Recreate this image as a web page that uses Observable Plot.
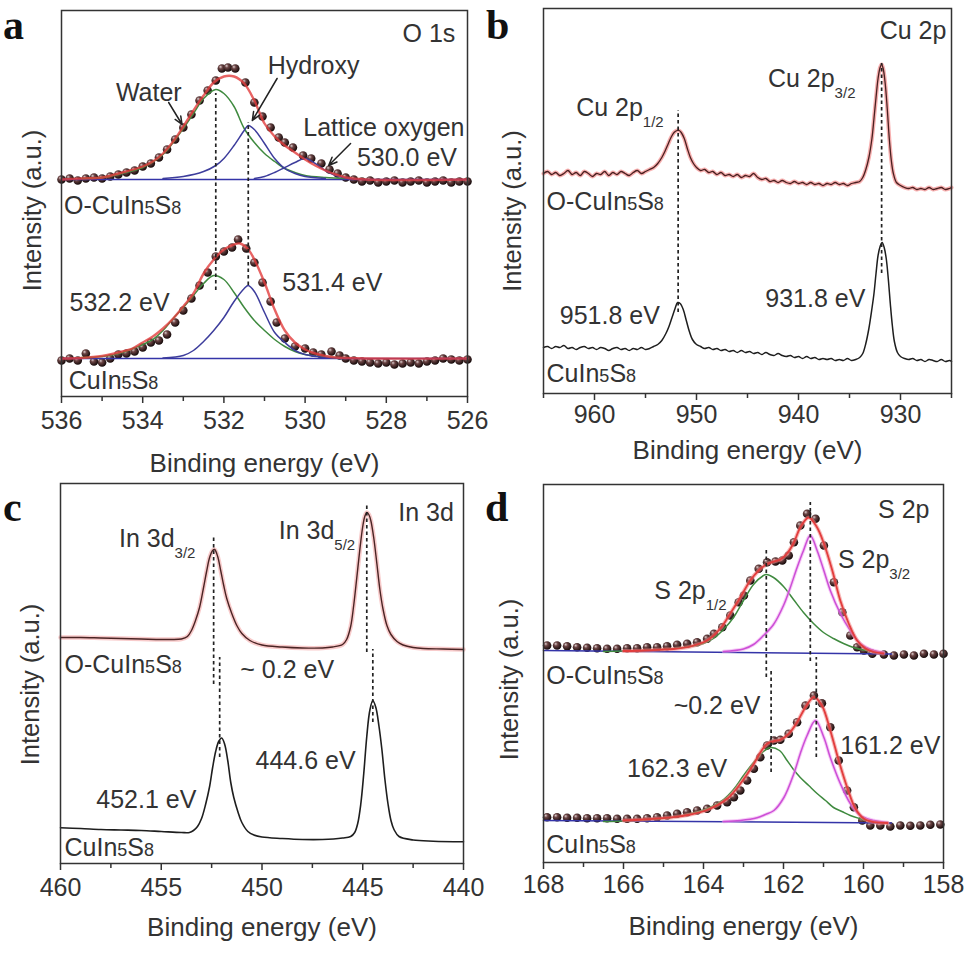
<!DOCTYPE html>
<html><head><meta charset="utf-8">
<script src="https://cdn.jsdelivr.net/npm/d3@7"></script>
<script src="https://cdn.jsdelivr.net/npm/@observablehq/plot@0.6"></script>
<style>
html,body{margin:0;padding:0;background:#fff;}
#fig{position:relative;width:968px;height:968px;overflow:hidden;background:#fff;}
#fig > svg{position:absolute;}
</style></head><body>
<svg width="0" height="0" style="position:absolute">
<defs><radialGradient id="ball" cx="0.4" cy="0.38" r="0.62" fx="0.33" fy="0.3">
<stop offset="0" stop-color="#ddd0d0"/><stop offset="0.35" stop-color="#6b4444"/><stop offset="1" stop-color="#140909"/></radialGradient></defs></svg>
<div id="fig"></div>
<script>
// ---------------- Panel a : O 1s ----------------
const aTopDots = [[536.0,217],[535.8,218],[535.6,216],[535.4,218],[535.2,219],[535.0,218],[534.8,220],[534.6,222],[534.4,224],[534.2,226],[534.0,230],[533.8,233],[533.6,239],[533.4,247],[533.2,257],[533.0,269],[532.8,282],[532.6,296],[532.4,306],[532.2,316],[532.05,328],[531.9,329],[531.72,328],[531.47,314],[531.25,294],[531.05,280],[530.85,269],[530.65,259],[530.5,254],[530.3,249],[530.05,241],[529.85,238],[529.6,233],[529.4,227],[529.2,223],[529.0,219],[528.8,217],[528.6,215],[528.4,216],[528.2,214],[528.0,215],[527.8,216],[527.6,214],[527.4,215],[527.2,216],[527.0,214],[526.8,215],[526.6,216],[526.4,214],[526.2,215],[526.0,215]];
const aTopBase = [[536,217],[526,217]];
const aTopWater = [[535.5,218],[535.0,219],[534.5,223],[534.0,229],[533.5,242],[533.25,254],[533.0,268],[532.75,283],[532.5,298],[532.2,307],[532.0,303],[531.75,290],[531.5,268],[531.25,254],[531.0,243],[530.75,235],[530.5,228],[530.25,224],[530.0,221],[529.5,219],[529.0,218]];
const aTopHydroxy = [[533.5,218],[533.0,220],[532.5,225],[532.2,231],[532.0,238],[531.75,251],[531.5,266],[531.4,271],[531.25,267],[531.0,253],[530.75,238],[530.5,228],[530.25,223],[530.0,220],[529.5,218]];
const aTopLattice = [[531.25,218],[531.0,220],[530.75,224],[530.5,229],[530.25,234],[530.0,238],[529.75,233],[529.5,226],[529.25,221],[529.0,218.5],[528.75,217.5]];
const aTopFit = [[536.0,217],[535.5,218],[535.0,219],[534.5,224],[534.0,230],[533.75,235],[533.5,243],[533.25,255],[533.0,270],[532.75,286],[532.5,301],[532.25,314],[532.0,320],[531.75,320],[531.5,313],[531.25,296],[531.0,273],[530.75,260],[530.5,251],[530.25,244],[530.0,237],[529.75,231],[529.5,226],[529.25,222],[529.0,219],[528.5,217],[526.0,217]];
const aBotDots = [[536.0,36],[535.8,38],[535.6,36],[535.4,43],[535.2,35],[535.0,34],[534.8,38],[534.6,42],[534.4,43],[534.2,45],[534.0,49],[533.8,54],[533.6,56],[533.4,62],[533.2,74],[533.0,86],[532.8,98],[532.6,111],[532.4,124],[532.2,140],[532.0,145],[531.8,149],[531.65,157],[531.45,148],[531.25,134],[531.05,114],[530.85,95],[530.7,74],[530.5,58],[530.25,50],[530.0,48],[529.8,44],[529.6,42],[529.35,45],[529.15,41],[529.0,38],[528.8,36],[528.6,35],[528.4,34],[528.2,33],[528.0,34],[527.8,32],[527.6,33],[527.4,34],[527.2,33],[527.0,35],[526.8,36],[526.6,38],[526.4,37],[526.2,36],[526.0,37]];
const aBotBase = [[536,38],[526,38]];
const aBotWater = [[535.5,39],[535.0,40],[534.5,44],[534.0,52],[533.75,57],[533.5,66],[533.25,78],[533.0,89],[532.75,101],[532.5,113],[532.25,121],[532.0,117],[531.75,104],[531.5,89],[531.25,76],[531.0,66],[530.75,57],[530.5,50],[530.25,45],[530.0,42],[529.5,39.5],[529.0,38.5]];
const aBotHydroxy = [[533.5,38.5],[533.0,41],[532.75,46],[532.5,55],[532.25,66],[532.0,79],[531.75,95],[531.5,108],[531.4,111],[531.25,105],[531.0,84],[530.75,64],[530.5,54],[530.25,46],[530.0,42],[529.5,39],[529.0,38.3]];
const aBotFit = [[536.0,38],[535.5,38.5],[535.0,40.5],[534.5,45],[534.25,48],[534.0,54],[533.75,60],[533.5,68],[533.25,78],[533.0,90],[532.75,103],[532.5,123],[532.25,137],[532.0,147],[531.75,152],[531.6,153],[531.4,147],[531.25,137],[531.0,114],[530.75,87],[530.5,66],[530.25,54],[530.0,47],[529.75,43],[529.5,40.5],[529.25,39],[529.0,38.5],[528.5,38],[526.0,38]];
const aDash = [{x:532.2,y1:106,y2:303},{x:531.4,y1:111,y2:274}];
const aArrows = [{x1:533.36,y1:294,x2:533.03,y2:272},{x1:530.69,y1:318,x2:531.3,y2:276},{x1:528.88,y1:253,x2:529.42,y2:231}];
const aLabels = [
  {x:526.3,y:363,t:"O 1s",a:"end"},
  {x:533.85,y:304,t:"Water",a:"middle"},
  {x:529.79,y:331,t:"Hydroxy",a:"middle"},
  {x:528.06,y:269,t:"Lattice oxygen",a:"middle"},
  {x:527.49,y:239,t:"530.0 eV",a:"middle"},
  {x:535.94,y:191,t:"O-CuIn5S8",a:"start"},
  {x:534.57,y:94,t:"532.2 eV",a:"middle"},
  {x:529.33,y:114,t:"531.4 eV",a:"middle"},
  {x:535.82,y:16,t:"CuIn5S8",a:"start"}
];
const aMajor = [536,534,532,530,528,526], aMinor = [535,533,531,529,527];

// ---------------- Panel b : Cu 2p ----------------
const bTop = [[965.0,220],[964.6,222],[964.2,219],[963.8,221],[963.4,218],[963.0,220],[962.6,223],[962.2,219],[961.8,221],[961.4,218],[961.0,222],[960.6,220],[960.2,217],[959.8,220],[959.4,219],[959.0,222],[958.6,218],[958.2,221],[957.8,219],[957.4,222],[957.0,220],[956.6,218],[956.2,221],[955.8,223],[955.4,220],[955.0,222],[954.6,224],[954.2,226],[953.8,230],[953.4,236],[953.1,242],[952.8,249],[952.5,256],[952.2,261],[951.9,263],[951.7,263],[951.5,261],[951.2,255],[950.9,245],[950.6,236],[950.3,230],[950.0,226],[949.6,223],[949.2,224],[948.8,221],[948.4,222],[948.0,219],[947.6,221],[947.2,218],[946.8,219],[946.4,217],[946.0,219],[945.6,216],[945.2,218],[944.8,217],[944.4,220],[944.0,216],[943.6,214],[943.2,215],[942.8,212],[942.4,213],[942.0,211],[941.6,213],[941.2,211],[940.8,210],[940.4,212],[940.0,210],[939.6,211],[939.2,209],[938.8,211],[938.4,209],[938.0,210],[937.6,208],[937.2,210],[936.8,209],[936.4,211],[936.0,209],[935.6,210],[935.2,208],[934.8,210],[934.4,211],[934.0,212],[933.7,216],[933.4,224],[933.1,236],[932.8,255],[932.6,275],[932.4,296],[932.2,315],[932.0,326],[931.85,329],[931.7,325],[931.5,310],[931.3,285],[931.1,255],[930.9,233],[930.7,220],[930.4,211],[930.0,208],[929.6,206],[929.2,205],[928.8,206],[928.4,204],[928.0,205],[927.6,204],[927.2,206],[926.8,204],[926.4,205],[926.0,206],[925.6,204],[925.2,205],[925.0,206]];
const bBot = [[965.0,46],[964.6,47],[964.2,45],[963.8,47],[963.4,46],[963.0,48],[962.6,45],[962.2,46],[961.8,44],[961.4,46],[961.0,47],[960.6,45],[960.2,46],[959.8,44],[959.4,46],[959.0,45],[958.6,43],[958.2,45],[957.8,46],[957.4,44],[957.0,45],[956.6,43],[956.2,45],[955.8,44],[955.4,46],[955.0,44],[954.6,45],[954.2,47],[953.8,49],[953.4,53],[953.0,60],[952.7,67],[952.4,76],[952.1,85],[951.85,91],[951.6,90],[951.3,84],[951.0,73],[950.7,62],[950.4,54],[950.0,49],[949.6,47],[949.2,45],[948.8,46],[948.4,44],[948.0,45],[947.6,43],[947.2,44],[946.8,42],[946.4,43],[946.0,41],[945.6,43],[945.2,41],[944.8,42],[944.4,40],[944.0,41],[943.6,39],[943.2,41],[942.8,39],[942.4,38],[942.0,40],[941.6,38],[941.2,37],[940.8,38],[940.4,36],[940.0,37],[939.6,35],[939.2,37],[938.8,35],[938.4,36],[938.0,34],[937.6,35],[937.2,34],[936.8,35],[936.4,33],[936.0,34],[935.6,33],[935.2,35],[934.8,33],[934.4,34],[934.0,36],[933.7,40],[933.4,50],[933.1,65],[932.8,85],[932.6,100],[932.4,120],[932.2,138],[932.0,147],[931.8,151],[931.6,146],[931.4,135],[931.2,115],[931.0,90],[930.8,68],[930.6,52],[930.3,41],[930.0,37],[929.6,35],[929.2,34],[928.8,35],[928.4,33],[928.0,34],[927.6,32],[927.2,34],[926.8,33],[926.4,32],[926.0,34],[925.6,32],[925.2,33],[925.0,32]];
const bDash = [{x:951.8,y1:81,y2:283},{x:931.85,y1:120,y2:330}];
const bLabels = [
  {x:925.5,y:363,t:"Cu 2p",a:"end"},
  {x:943.0,y:314.7,t:"Cu 2p|3/2",a:"start"},
  {x:961.8,y:286,t:"Cu 2p|1/2",a:"start"},
  {x:964.7,y:191.3,t:"O-CuIn5S8",a:"start"},
  {x:958.5,y:78,t:"951.8 eV",a:"middle"},
  {x:938.35,y:94.7,t:"931.8 eV",a:"middle"},
  {x:964.7,y:19.7,t:"CuIn5S8",a:"start"}
];
const bMajor = [960,950,940,930], bMinor = [965,955,945,935,925];

// ---------------- Panel c : In 3d ----------------
const cTop = [[460.0,226],[459.0,226],[458.0,225.5],[457.0,225],[456.0,224.5],[455.0,224],[454.5,224],[454.0,224.5],[453.7,227],[453.5,233],[453.3,243],[453.1,256],[452.9,276],[452.75,292],[452.6,306],[452.45,313],[452.35,314],[452.2,307],[452.05,293],[451.9,278],[451.75,265],[451.5,250],[451.25,238],[451.0,230],[450.6,223],[450.0,218.5],[449.0,216.5],[448.0,215.5],[447.0,215.5],[446.5,216.5],[446.0,219],[445.8,224],[445.6,237],[445.45,258],[445.3,285],[445.15,313],[445.0,337],[444.9,347],[444.8,351],[444.7,349],[444.6,343],[444.45,325],[444.3,300],[444.15,274],[444.0,255],[443.8,238],[443.6,229],[443.3,222],[443.0,218.5],[442.5,216],[442.0,215],[441.0,214.5],[440.0,214]];
const cBot = [[460.0,35.7],[459.0,35],[458.0,34],[457.0,33.5],[456.0,33],[455.0,32],[454.0,31],[453.6,31],[453.4,33],[453.2,37],[453.0,45],[452.8,59],[452.6,77],[452.45,96],[452.3,112],[452.15,122],[452.0,125.5],[451.85,119],[451.7,103],[451.55,81],[451.4,66],[451.2,52],[451.0,41],[450.7,32],[450.4,28.5],[450.0,26.5],[449.0,25],[448.0,24],[447.0,24],[446.0,25.5],[445.6,27],[445.4,31],[445.25,40],[445.1,59],[444.95,90],[444.8,127],[444.65,153],[444.5,163],[444.35,156],[444.2,138],[444.05,114],[443.9,84],[443.75,60],[443.6,43],[443.45,34],[443.2,27],[442.5,23.5],[441.5,22.3],[440.0,21.7]];
const cDash = [{x:452.4,y1:179,y2:327},{x:452.1,y1:106,y2:206},{x:444.8,y1:211,y2:359},{x:444.5,y1:141,y2:214}];
const cLabels = [
  {x:440.48,y:350.7,t:"In 3d",a:"end"},
  {x:457.1,y:325,t:"In 3d|3/2",a:"start"},
  {x:449.17,y:332.3,t:"In 3d|5/2",a:"start"},
  {x:459.8,y:199,t:"O-CuIn5S8",a:"start"},
  {x:448.75,y:194,t:"~ 0.2 eV",a:"middle"},
  {x:455.74,y:64,t:"452.1 eV",a:"middle"},
  {x:447.84,y:102.3,t:"444.6 eV",a:"middle"},
  {x:459.8,y:15.7,t:"CuIn5S8",a:"start"}
];
const cMajor = [460,455,450,445,440], cMinor = [457.5,452.5,447.5,442.5];

// ---------------- Panel d : S 2p ----------------
const dTopDots = [[167.91,217],[167.66,217],[167.41,216.3],[167.16,215.3],[166.91,214.7],[166.66,214.3],[166.41,213.7],[166.16,213.7],[165.91,214.3],[165.66,214.3],[165.41,215.3],[165.16,215.3],[164.91,216.3],[164.66,217.7],[164.41,218.7],[164.16,220.3],[163.91,223.7],[163.74,228.7],[163.53,235.3],[163.33,247],[163.12,260.3],[162.99,267],[162.83,282],[162.62,293.7],[162.41,300.3],[162.2,301],[162.03,302],[161.87,307],[161.74,320.3],[161.58,337],[161.41,348.7],[161.2,343.7],[160.99,317],[160.74,280.3],[160.53,250.3],[160.33,227],[160.16,215.3],[159.99,212],[159.78,208.7],[159.49,208],[159.24,207],[158.99,208],[158.74,207],[158.49,208.7],[158.24,208],[158.0,208.7]];
const dTopBase = [[168,212],[159.3,208.5]];
const dTopS12 = [[166.5,211],[166.0,211.5],[165.5,212],[165.0,213],[164.5,215],[164.0,219],[163.75,224],[163.5,233],[163.25,245],[163.0,262],[162.75,278],[162.5,287],[162.43,288],[162.25,285],[162.0,276],[161.75,263],[161.5,250],[161.25,239],[161.0,230],[160.75,224],[160.5,219],[160.25,215],[160.0,212.5],[159.5,210]];
const dTopS32 = [[163.5,211],[163.0,213.5],[162.75,218],[162.5,227],[162.25,238],[162.0,257],[161.83,275],[161.66,295],[161.5,312],[161.33,327],[161.16,312],[161.0,293],[160.83,272],[160.58,249],[160.33,232],[160.08,219],[159.75,212],[159.5,210]];
const dTopFit = [[166.0,211.5],[165.5,212],[165.0,213],[164.75,213.5],[164.33,216],[163.91,222],[163.58,234],[163.33,249],[163.08,265],[162.83,282],[162.62,292],[162.41,298.5],[162.24,301],[162.08,303],[161.91,309],[161.74,320],[161.58,335],[161.37,345],[161.16,335],[160.99,319],[160.78,292],[160.58,262],[160.37,239],[160.16,222],[159.95,214],[159.74,210.5],[159.5,209]];
const dBotDots = [[167.91,45.3],[167.66,45.3],[167.41,44.7],[167.16,44.7],[166.91,44.3],[166.66,44.3],[166.41,44.3],[166.16,43.7],[165.91,43.7],[165.66,43.7],[165.41,44.3],[165.16,45.3],[164.91,47],[164.66,48.7],[164.41,50.3],[164.16,52],[163.91,53.7],[163.66,57],[163.41,60.3],[163.24,65.3],[163.08,72],[162.91,82],[162.74,93.7],[162.58,105.3],[162.41,117],[162.24,122],[162.08,122.7],[161.87,128.7],[161.66,140.3],[161.45,157],[161.24,167],[161.04,159.3],[160.83,135.3],[160.62,102],[160.41,72],[160.24,55.3],[160.03,42],[159.83,37],[159.58,37],[159.33,36],[159.08,37],[158.83,36.7],[158.58,37],[158.33,37.7],[158.08,38]];
const dBotBase = [[168,42],[159.3,39.5]];
const dBotS12 = [[166.5,41],[166.0,41.5],[165.5,42.5],[165.16,43.7],[164.75,45.3],[164.33,48.7],[163.91,53.7],[163.5,63],[163.25,73],[163.0,87],[162.75,100],[162.5,111],[162.33,115],[162.1,112],[161.91,102],[161.75,93],[161.58,85],[161.37,77],[161.16,69],[160.95,62],[160.75,55],[160.54,51],[160.33,47],[160.1,44],[159.91,42],[159.49,40.3]];
const dBotS32 = [[163.5,41],[163.08,42],[162.66,44.7],[162.45,48],[162.24,52],[161.99,65],[161.74,89],[161.58,109],[161.41,127],[161.2,142],[160.99,125],[160.83,105],[160.58,79],[160.33,59],[160.08,47],[159.74,42],[159.4,40]];
const dBotFit = [[166.0,42],[165.5,43],[164.75,45.3],[164.33,48],[163.91,52.5],[163.41,63.7],[163.08,78.7],[162.74,98.7],[162.58,110],[162.41,118.7],[162.24,121.3],[162.08,122.7],[161.87,128.7],[161.66,140.3],[161.45,155.3],[161.24,165.3],[161.04,157],[160.83,132],[160.62,102],[160.41,75.3],[160.2,53.7],[159.99,43.7],[159.74,40.3],[159.4,39.5]];
const dDash = [{x:162.43,y1:185,y2:315},{x:162.31,y1:90,y2:191},{x:161.33,y1:201,y2:360},{x:161.18,y1:105,y2:205}];
const dLabels = [
  {x:158.35,y:353,t:"S 2p",a:"end"},
  {x:160.64,y:303,t:"S 2p|3/2",a:"start"},
  {x:165.23,y:271.3,t:"S 2p|1/2",a:"start"},
  {x:167.93,y:186.3,t:"O-CuIn5S8",a:"start"},
  {x:163.66,y:157,t:"~0.2 eV",a:"middle"},
  {x:164.66,y:93.7,t:"162.3 eV",a:"middle"},
  {x:159.33,y:117,t:"161.2 eV",a:"middle"},
  {x:167.93,y:18,t:"CuIn5S8",a:"start"}
];
const dMajor = [168,166,164,162,160,158], dMinor = [167,165,163,161,159];

const panelLetters = ["a","b","c","d"];

// ---------------- drawing ----------------
const NS = "http://www.w3.org/2000/svg";
const INK = "#333";
const FONT = "'Liberation Sans', Arial, Helvetica, sans-serif";
const GREEN = "#3f8a3f", BLUE = "#3d3d9c", NAVY = "#3434a8", RED = "#e23d3d", MAG = "#cc4fd6";
const fig = document.getElementById("fig");
const P = {x: d => d[0], y: d => d[1]};

function line(data, stroke, w, extra = {}) {
  return Plot.line(data, {...P, stroke, strokeWidth: w, curve: "catmull-rom", ...extra});
}
function glowLine(data, halo, core, hw, cw) {
  return [line(data, halo, hw, {strokeOpacity: 0.55}), line(data, core, cw)];
}
function dots(data) {
  return Plot.dot(data, {...P, r: 4.3, fill: "url(#ball)"});
}
function labels(arr) {
  return ["start", "middle", "end"].map(a =>
    Plot.text(arr.filter(d => d.a === a), {x: "x", y: "y", text: "t", textAnchor: a, lineAnchor: "middle", fontSize: 25, fill: INK}));
}
function dashes(arr) {
  return Plot.ruleX(arr, {x: "x", y1: "y1", y2: "y2", stroke: "#222", strokeWidth: 1.7, strokeDasharray: "3.5,3"});
}
function frameAxes(major, minor, pad, titleDy, yDx, yDy) {
  return [
    Plot.axisX({ticks: minor, tickSize: 5, strokeWidth: 1.5, tickFormat: () => "", label: null}),
    Plot.axisX({ticks: major, tickSize: 7, strokeWidth: 1.5, tickPadding: pad, fontSize: 25, label: null}),
    Plot.frame({stroke: INK, strokeWidth: 1.5}),
    Plot.text(["Binding energy (eV)"], {frameAnchor: "bottom", textAnchor: "middle", lineAnchor: "middle", dy: titleDy, text: d => d, fontSize: 26, fill: INK}),
    Plot.text(["Intensity (a.u.)"], {frameAnchor: "left", textAnchor: "middle", lineAnchor: "middle", rotate: -90, dx: yDx, dy: yDy, text: d => d, fontSize: 25.5, fill: INK})
  ];
}
function fixText(svg) {
  for (const t of svg.querySelectorAll("text")) {
    const s = t.textContent;
    if (s.includes("|")) {
      const [main, sub] = s.split("|");
      t.textContent = main;
      const ts = document.createElementNS(NS, "tspan");
      ts.setAttribute("font-size", "15");
      ts.setAttribute("dy", "11");
      ts.textContent = sub;
      t.appendChild(ts);
    } else if (s.includes("CuIn5S8")) {
      t.textContent = "";
      for (const p of s.split(/(5|8)/)) {
        if (p === "5" || p === "8") {
          const ts = document.createElementNS(NS, "tspan");
          ts.setAttribute("font-size", "18");
          ts.textContent = p;
          t.appendChild(ts);
        } else if (p) t.appendChild(document.createTextNode(p));
      }
    }
  }
}
function makePanel(cfg) {
  const svg = Plot.plot({
    width: cfg.w, height: cfg.h,
    marginTop: cfg.m[0], marginRight: cfg.m[1], marginBottom: cfg.m[2], marginLeft: cfg.m[3],
    x: {domain: cfg.xd},
    y: {domain: cfg.yd, axis: null},
    style: {fontFamily: FONT, fontSize: "25px", color: INK, background: "transparent", overflow: "visible", maxWidth: "none"},
    marks: cfg.marks
  });
  svg.style.left = cfg.left + "px";
  svg.style.top = cfg.top + "px";
  fixText(svg);
  fig.appendChild(svg);
}

// Panel a
makePanel({left: 0, top: 0, w: 484, h: 484, m: [10, 17, 88, 61], xd: [536, 526], yd: [0, 386], marks: [
  dots(aTopDots), dots(aBotDots),
  line(aTopBase, NAVY, 1.5, {curve: "linear"}), line(aBotBase, NAVY, 1.5, {curve: "linear"}),
  line(aTopWater, GREEN, 1.5), line(aTopHydroxy, BLUE, 1.5), line(aTopLattice, BLUE, 1.5),
  line(aBotWater, GREEN, 1.5), line(aBotHydroxy, BLUE, 1.5),
  line(aTopFit, RED, 2.4, {strokeOpacity: 0.8}), line(aBotFit, RED, 2.4, {strokeOpacity: 0.8}),
  dashes(aDash),
  Plot.arrow(aArrows, {x1: "x1", y1: "y1", x2: "x2", y2: "y2", stroke: "#222", strokeWidth: 1.5, headLength: 9, headAngle: 45}),
  ...labels(aLabels),
  ...frameAxes(aMajor, aMinor, 8, 67, -29, 7)
]});

// Panel b
makePanel({left: 484, top: 0, w: 484, h: 484, m: [8, 17, 91, 59], xd: [965, 925], yd: [0, 385], marks: [
  ...glowLine(bTop, "#f07070", "#4a2020", 4, 1.3),
  line(bBot, "#1e1e1e", 1.5),
  dashes(bDash),
  ...labels(bLabels),
  ...frameAxes(bMajor, bMinor, 5, 57, -31, 10)
]});

// Panel c
makePanel({left: 0, top: 480, w: 484, h: 488, m: [3, 21, 105, 60], xd: [460, 440], yd: [0, 380], marks: [
  ...glowLine(cTop, "#f3a0a0", "#4a2424", 4.5, 1.4),
  line(cBot, "#1e1e1e", 1.6),
  dashes(cDash),
  ...labels(cLabels),
  ...frameAxes(cMajor, cMinor, 8, 64, -30, 11)
]});

// Panel d
makePanel({left: 484, top: 480, w: 484, h: 488, m: [4, 25, 106, 59], xd: [168, 158], yd: [0, 378], marks: [
  dots(dTopDots), dots(dBotDots),
  line(dTopBase, NAVY, 1.5, {curve: "linear"}), line(dBotBase, NAVY, 1.5, {curve: "linear"}),
  line(dTopS12, GREEN, 1.5), line(dBotS12, GREEN, 1.5),
  ...glowLine(dTopS32, "#f0a0f0", MAG, 3.5, 1.5), ...glowLine(dBotS32, "#f0a0f0", MAG, 3.5, 1.5),
  ...glowLine(dTopFit, "#f08080", RED, 4, 1.8), ...glowLine(dBotFit, "#f08080", RED, 4, 1.8),
  dashes(dDash),
  ...labels(dLabels),
  ...frameAxes(dMajor, dMinor, 6, 64, -34, 6)
]});

// panel letters
const over = document.createElementNS(NS, "svg");
over.setAttribute("width", 968); over.setAttribute("height", 968);
over.style.left = "0px"; over.style.top = "0px"; over.style.pointerEvents = "none";
const letterPos = [[3, 39], [486, 39], [3, 521], [485, 521]];
panelLetters.forEach((s, i) => {
  const t = document.createElementNS(NS, "text");
  t.setAttribute("x", letterPos[i][0]); t.setAttribute("y", letterPos[i][1]);
  t.setAttribute("font-family", "'Liberation Serif', 'Times New Roman', serif");
  t.setAttribute("font-weight", "bold"); t.setAttribute("font-size", "42");
  t.setAttribute("fill", "#111");
  t.textContent = s;
  over.appendChild(t);
});
fig.appendChild(over);
</script>
</body></html>
